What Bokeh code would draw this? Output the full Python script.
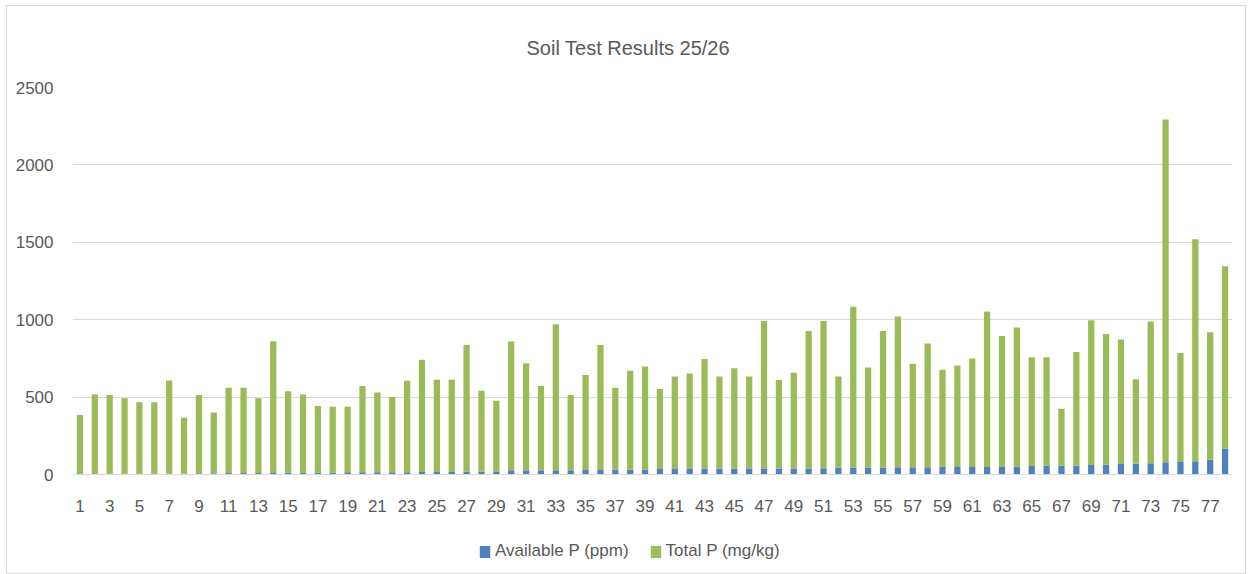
from bokeh.plotting import figure
from bokeh.layouts import column
from bokeh.models import ColumnDataSource, Range1d, FixedTicker, Legend, LegendItem, Title
from bokeh.embed import file_html
from bokeh.resources import INLINE

samples = list(range(1, 79))
available_p = [2, 3, 5, 5, 5, 6, 6, 6, 8, 8, 9, 9, 9, 10, 13, 13, 13, 13, 14, 15,
               15, 15, 15, 16, 16, 16, 20, 20, 20, 27, 27, 28, 28, 28, 29, 29, 30, 30, 31, 35,
               36, 36, 37, 37, 37, 38, 38, 38, 39, 39, 40, 45, 46, 46, 46, 47, 47, 47, 48, 48,
               48, 49, 49, 50, 55, 56, 56, 57, 62, 63, 68, 69, 73, 79, 80, 86, 96, 166]
bar_tops = [384, 517, 513, 492, 466, 466, 608, 367, 513, 401, 560, 560, 492, 861, 537, 517, 442, 438, 438, 571,
            530, 500, 605, 741, 612, 612, 837, 541, 477, 859, 719, 571, 970, 513, 642, 837, 560, 671, 697, 553,
            633, 652, 746, 633, 686, 633, 992, 611, 658, 927, 992, 633, 1083, 692, 927, 1021, 716, 846, 677, 704,
            750, 1053, 895, 949, 757, 757, 424, 791, 996, 908, 872, 616, 989, 2294, 785, 1520, 919, 1345]
total_p = [t - a for t, a in zip(bar_tops, available_p)]
x_tick_labels = list(range(1, 78, 2))
series_names = ["Available P (ppm)", "Total P (mg/kg)"]

BLUE = "#4F81BD"
GREEN = "#9BBB59"
GREY_TXT = "#595959"
GRID = "#D9D9D9"
FONT = "Liberation Sans"

src = ColumnDataSource(dict(x=samples, avail=available_p, total=total_p))

p = figure(width=1238, height=523, output_backend="svg", toolbar_location=None,
           x_range=Range1d(0.5, 78.5), y_range=Range1d(0, 2500),
           min_border_left=65, min_border_right=13, min_border_top=78, min_border_bottom=55)
p.outline_line_color = None

title = Title(text="Soil Test Results 25/26", align="left", offset=454, text_font=FONT,
              text_font_size="20px", text_color=GREY_TXT, text_font_style="normal", standoff=57)
p.add_layout(title, "above")

p.vbar_stack(["avail", "total"], x="x", width=0.42, color=[BLUE, GREEN],
             line_color=None, source=src)

p.yaxis.ticker = FixedTicker(ticks=[0, 500, 1000, 1500, 2000, 2500])
p.yaxis.axis_line_color = None
p.yaxis.major_tick_line_color = None
p.yaxis.minor_tick_line_color = None
p.yaxis.major_label_text_font = FONT
p.yaxis.major_label_text_font_size = "17px"
p.yaxis.major_label_text_color = GREY_TXT
p.yaxis.major_label_standoff = 13

p.xaxis.ticker = FixedTicker(ticks=x_tick_labels)
p.xaxis.axis_line_color = GRID
p.xaxis.major_tick_line_color = None
p.xaxis.minor_tick_line_color = None
p.xaxis.major_label_text_font = FONT
p.xaxis.major_label_text_font_size = "17px"
p.xaxis.major_label_text_color = GREY_TXT
p.xaxis.major_label_standoff = 19

p.xgrid.grid_line_color = None
p.ygrid.grid_line_color = GRID
p.ygrid.grid_line_width = 1

# legend strip (part of the same chart box); its key bars sit outside the visible range
q = figure(width=1238, height=44, output_backend="svg", toolbar_location=None,
           x_range=Range1d(0, 1), y_range=Range1d(0, 1),
           x_axis_location=None, y_axis_location=None,
           min_border_left=0, min_border_right=0, min_border_top=0, min_border_bottom=0)
q.outline_line_color = None
q.grid.visible = False
key_src = ColumnDataSource(dict(x=[10], top=[10]))
r_blue = q.vbar(x="x", top="top", bottom=9, width=0.1, color=BLUE, line_color=None, source=key_src)
r_green = q.vbar(x="x", top="top", bottom=9, width=0.1, color=GREEN, line_color=None, source=key_src)
legend = Legend(items=[LegendItem(label=series_names[0], renderers=[r_blue]),
                       LegendItem(label=series_names[1], renderers=[r_green])],
                orientation="horizontal", location=(406, 12),
                label_text_font=FONT, label_text_font_size="17px", label_text_color=GREY_TXT,
                glyph_width=13, glyph_height=15, spacing=20, border_line_color=None,
                background_fill_alpha=0, margin=0, padding=4, label_standoff=4)
q.add_layout(legend, "center")

layout = column(p, q, spacing=0)
layout.margin = (5, 0, 0, 6)
layout.styles = {"border": "1px solid #D9D9D9"}

open("out.html", "w").write(file_html(layout, INLINE))
